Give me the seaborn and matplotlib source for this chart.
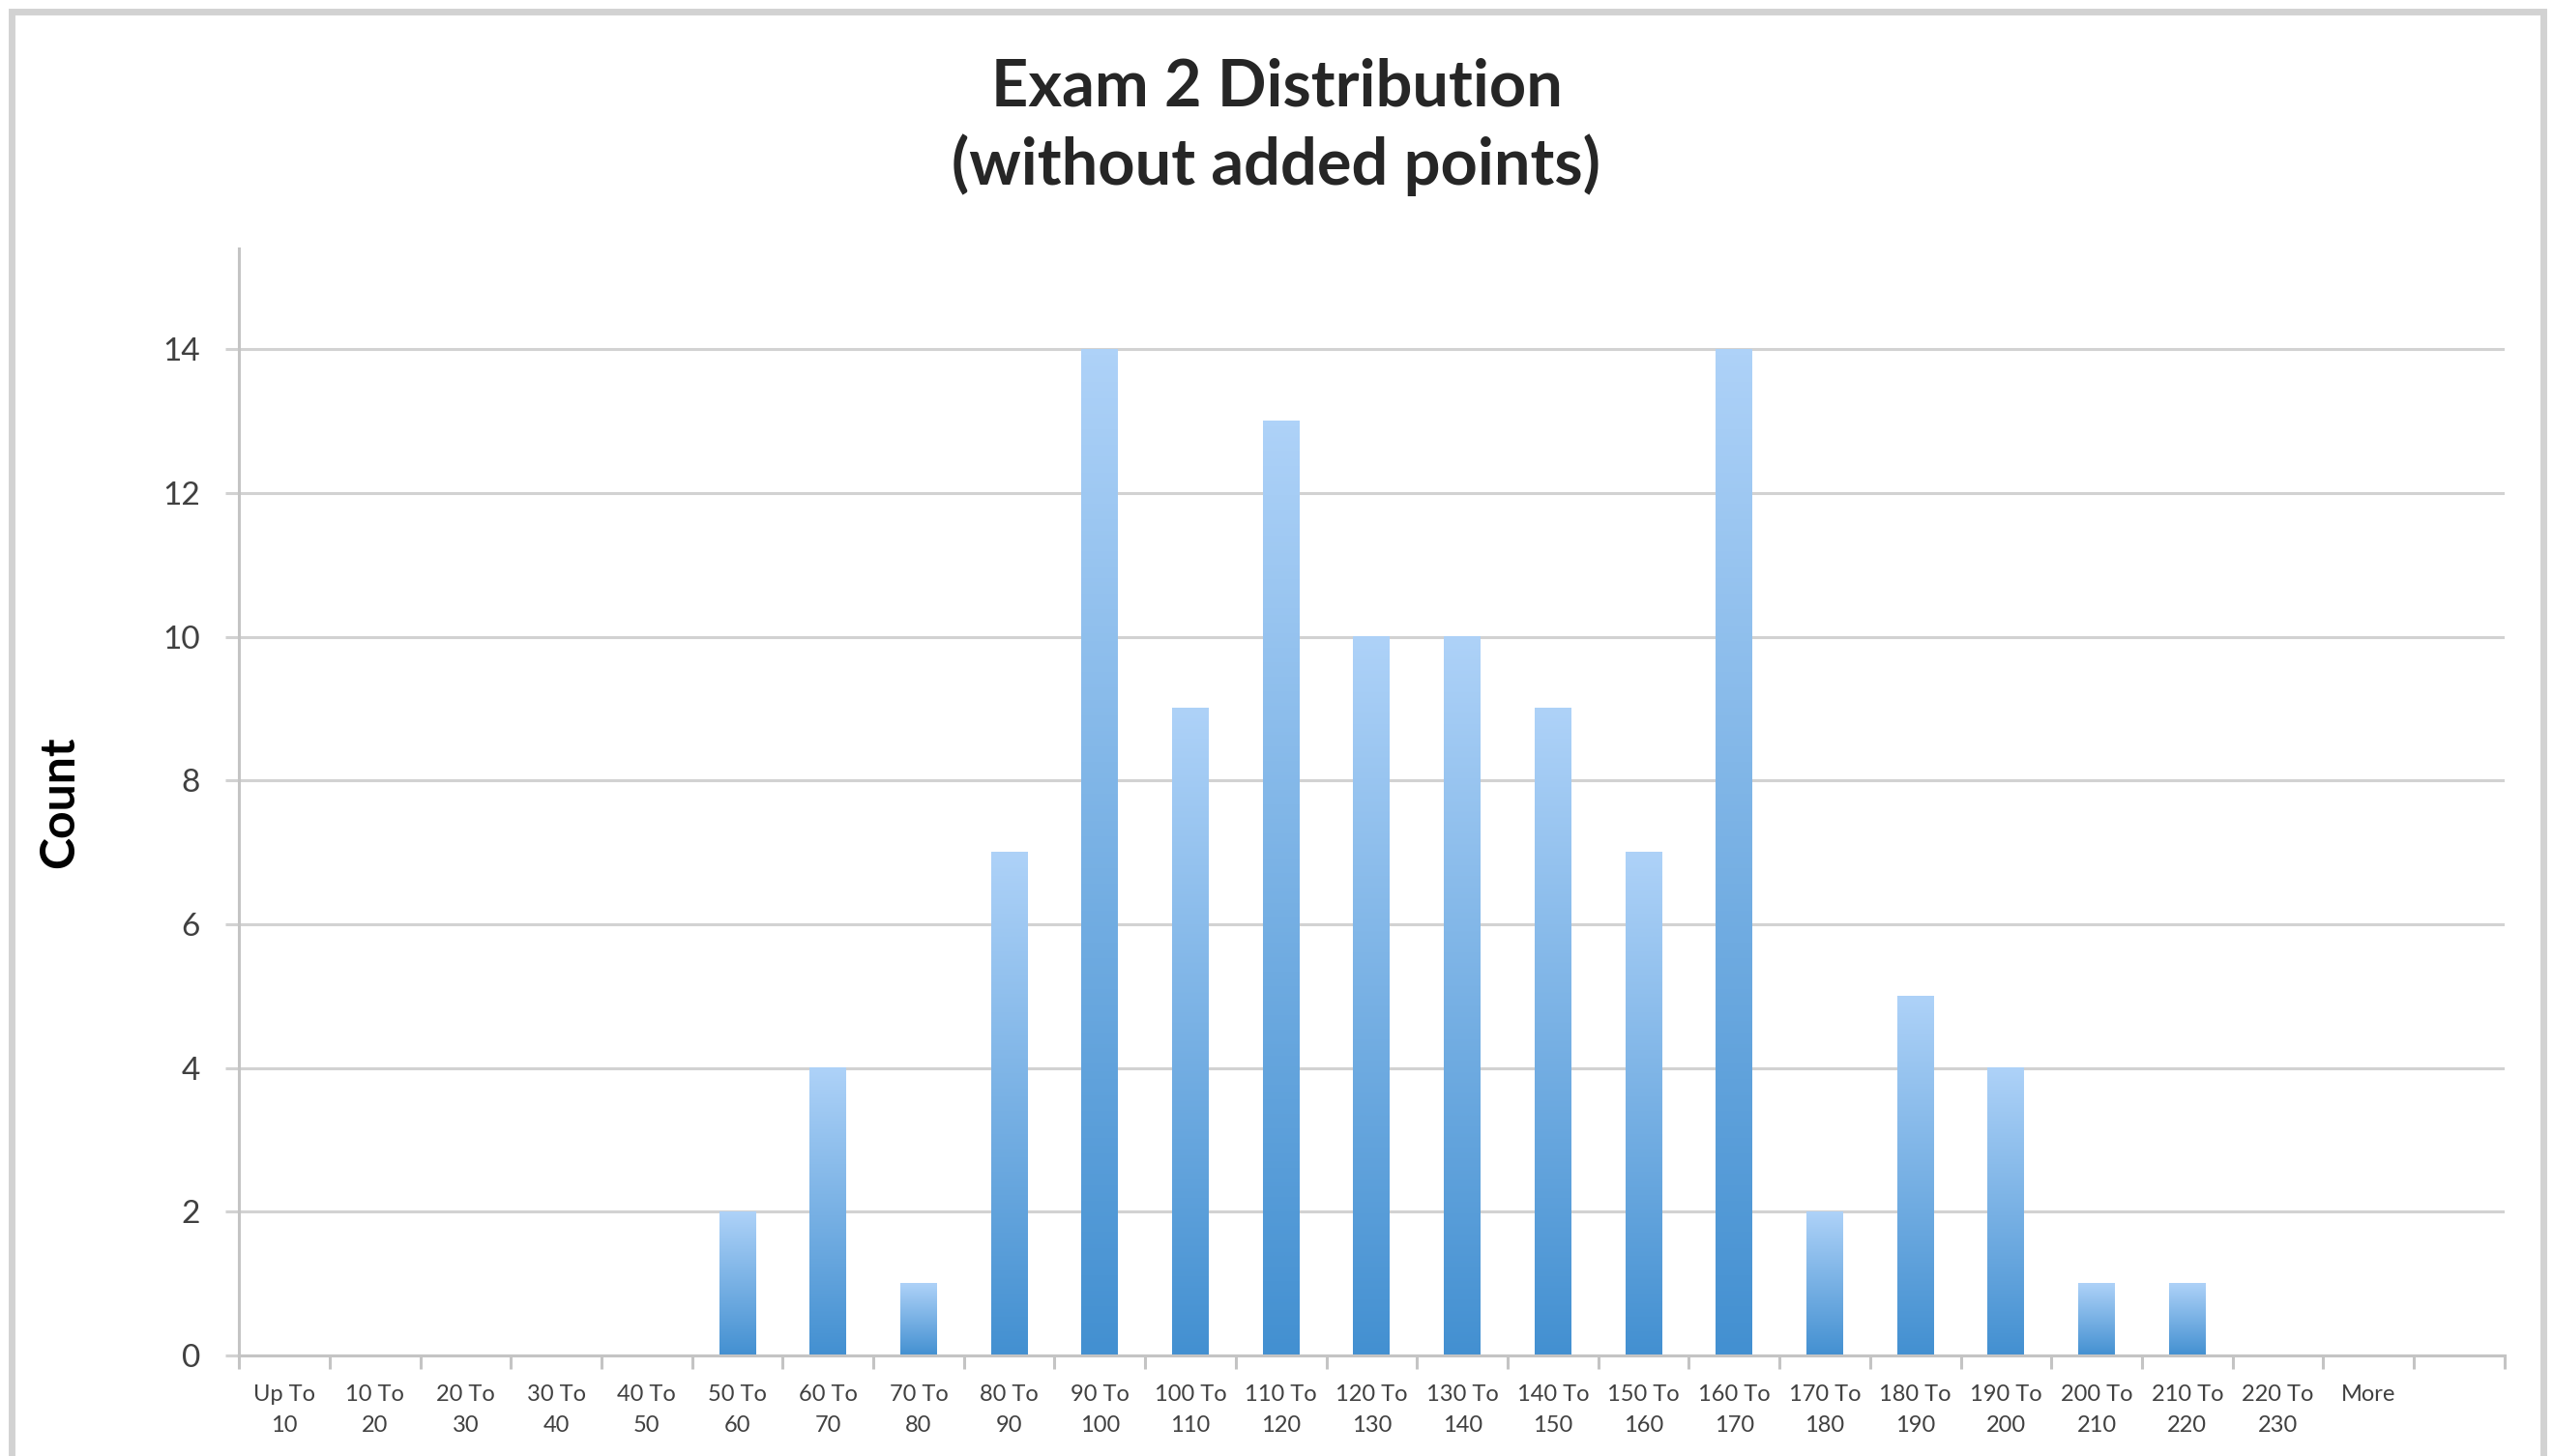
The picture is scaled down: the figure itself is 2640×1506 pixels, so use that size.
import numpy as np
import pandas as pd
import seaborn as sns
import matplotlib.pyplot as plt
from matplotlib.colors import LinearSegmentedColormap
from matplotlib.patches import Rectangle

bins = ["Up To\n10", "10 To\n20", "20 To\n30", "30 To\n40", "40 To\n50", "50 To\n60",
        "60 To\n70", "70 To\n80", "80 To\n90", "90 To\n100", "100 To\n110", "110 To\n120",
        "120 To\n130", "130 To\n140", "140 To\n150", "150 To\n160", "160 To\n170",
        "170 To\n180", "180 To\n190", "190 To\n200", "200 To\n210", "210 To\n220",
        "220 To\n230", "More"]
counts = [0, 0, 0, 0, 0, 2, 4, 1, 7, 14, 9, 13, 10, 10, 9, 7, 14, 2, 5, 4, 1, 1, 0, 0]
y_ticks = [0, 2, 4, 6, 8, 10, 12, 14]

df = pd.DataFrame({"bin": bins, "count": counts})

sns.set_theme(style="white")
plt.rcParams["font.family"] = ["Lato", "DejaVu Sans"]

fig = plt.figure(figsize=(26.4, 15.06), dpi=100)
ax = fig.add_axes([0.0936, 0.0691, 0.981 - 0.0936, 0.8293 - 0.0691])

sns.barplot(data=df, x="bin", y="count", color="#5a9ad8", width=0.405, ax=ax)

# vertical gradient fill on every bar (light top, darker bottom)
grad_cmap = LinearSegmentedColormap.from_list("bar", ["#aed2f8", "#4390d1"])
grad = np.linspace(0, 1, 256).reshape(-1, 1)
for p in ax.patches:
    h = p.get_height()
    if h <= 0:
        continue
    x0 = p.get_x()
    w = p.get_width()
    p.set_facecolor("none")
    p.set_edgecolor("none")
    ax.imshow(grad, cmap=grad_cmap, aspect="auto", extent=[x0, x0 + w, 0, h],
              zorder=2, interpolation="bicubic")

ax.set_xlim(-0.5, len(bins) + 0.5)
ax.set_ylim(0, 15.4)
ax.set_yticks(y_ticks)
ax.set_yticklabels([str(t) for t in y_ticks])

ax.yaxis.grid(True, color="#d2d2d2", linewidth=2.2)
ax.set_axisbelow(True)
for s in ["top", "right"]:
    ax.spines[s].set_visible(False)
for s in ["left", "bottom"]:
    ax.spines[s].set_color("#c4c4c4")
    ax.spines[s].set_linewidth(2.2)

ax.tick_params(axis="y", length=10, width=2.2, color="#d2d2d2", pad=19,
               labelsize=24, labelcolor="#404040", left=True)
ax.tick_params(axis="x", which="major", length=0, pad=22, labelsize=17,
               labelcolor="#404040")
ax.set_xticks(np.arange(-0.5, len(bins) + 0.6, 1), minor=True)
ax.tick_params(axis="x", which="minor", length=10, width=2.2, color="#c4c4c4",
               bottom=True)
for lab in ax.get_xticklabels():
    lab.set_linespacing(1.6)

ax.set_xlabel("")
ax.set_ylabel("Count", fontsize=36, fontweight="bold", color="black", labelpad=60)

fig.text(0.5, 0.913, "Exam 2 Distribution\n(without added points)", ha="center",
         va="center", fontsize=48, fontweight="bold", linespacing=1.32)

fig.patches.append(Rectangle((12 / 2640, -0.05), (2630 - 12) / 2640, 1.05 - 12 / 1506,
                             transform=fig.transFigure, fill=False,
                             edgecolor="#d2d2d2", linewidth=5))

fig.savefig("out.png", dpi=100)
